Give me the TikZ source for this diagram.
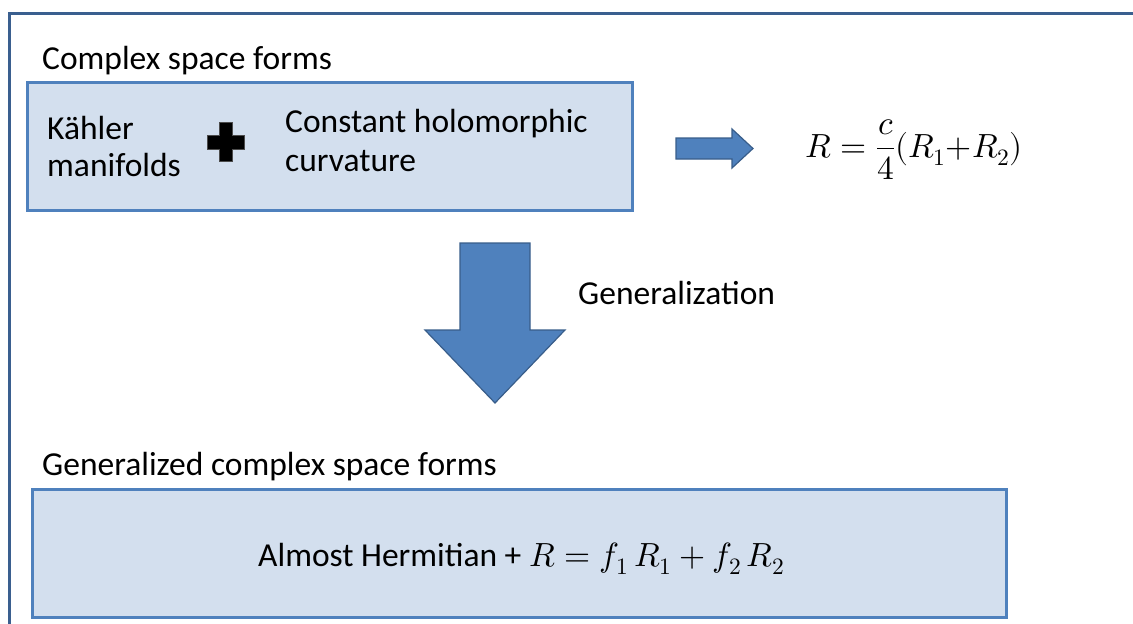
\documentclass[tikz,border=0pt]{standalone}
\usepackage{fontspec}
\usepackage{unicode-math}
\setmainfont{Carlito}
\setmathfont{Latin Modern Math}
\definecolor{frameblue}{HTML}{3A5F8F}
\definecolor{boxfill}{HTML}{D3DFEE}
\definecolor{boxline}{HTML}{4F81BD}
\definecolor{arrowfill}{HTML}{4F81BD}
\definecolor{arrowline}{HTML}{385D8A}
\tikzset{
  frameline/.style={draw=frameblue, line width=3pt},
  panel/.style={draw=boxline, fill=boxfill, line width=3pt, rectangle, inner sep=0pt},
  blockarrow/.style={fill=arrowfill, draw=arrowline, line width=1.2pt, line join=miter},
  plussign/.style={fill=black, draw=black!70, line width=0.6pt},
  txt/.style={anchor=base west, inner sep=0pt, font=\fontsize{33.5}{40}\selectfont},
}
\begin{document}
\begin{tikzpicture}[x=1pt,y=-1pt]
\useasboundingbox (0,0) rectangle (1133,624);
\begin{scope}
  \clip (0,0) rectangle (1133,624);
  \draw[frameline] (9,13.5) rectangle (1200,700);
\end{scope}
% boxes
\node[panel, minimum width=605pt, minimum height=128pt] (cbox) at (329.5,146) {};
\node[panel, minimum width=974pt, minimum height=128pt] (gbox) at (519,553) {};
% titles
\node[txt] (t1) at (42,69) {Complex space forms};
\node[txt] (t2) at (42,475) {Generalized complex space forms};
% inside box 1
\node[txt] (k1) at (47,139) {Kähler};
\node[txt] (k2) at (47,176) {manifolds};
\node[txt] (c1) at (285,132) {Constant holomorphic};
\node[txt] (c2) at (285,171) {curvature};
\draw[plussign] (219,122) -- (232,122) -- (232,135) -- (244,135) -- (244,149) -- (232,149) -- (232,161) -- (219,161) -- (219,149) -- (207,149) -- (207,135) -- (219,135) -- cycle;
% right arrow
\draw[blockarrow] (676,138) -- (732,138) -- (732,129) -- (753,148.5) -- (732,168) -- (732,159) -- (676,159) -- cycle;
\node[txt] (eq) at (805,157) {$\displaystyle R=\frac{c}{4}(R_1{+}R_2)$};
% down arrow
\draw[blockarrow] (460,243) -- (530,243) -- (530,330) -- (565,330) -- (495,403) -- (425,330) -- (460,330) -- cycle;
\node[txt] (gen) at (578,304) {Generalization};
% box 2 text
\node[txt] (ah) at (258,566) {Almost Hermitian + $R=f_1\,R_1+f_2\,R_2$};
\end{tikzpicture}
\end{document}
